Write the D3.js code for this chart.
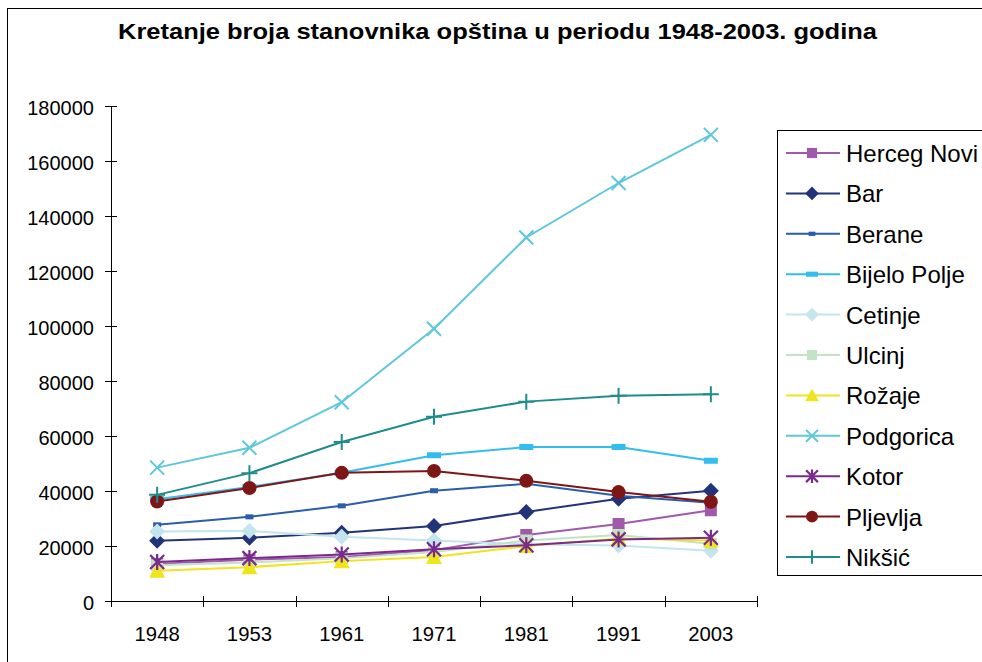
<!DOCTYPE html>
<html><head><meta charset="utf-8">
<script src="https://cdn.jsdelivr.net/npm/d3@7"></script>
<style>body{margin:0;background:#fff}svg{display:block}text{font-family:"Liberation Sans",Arial,sans-serif;fill:#000}</style>
</head><body><div id="chart"></div>
<script>
const years = ["1948","1953","1961","1971","1981","1991","2003"];
const yTicks = [0,20000,40000,60000,80000,100000,120000,140000,160000,180000];
const seriesNames = ["Herceg Novi","Bar","Berane","Bijelo Polje","Cetinje","Ulcinj","Rožaje","Podgorica","Kotor","Pljevlja","Nikšić"];
const hercegNovi = [13500,15000,16000,18500,24000,28000,33000];
const bar        = [21900,23000,24800,27300,32400,37200,40100];
const berane     = [27700,30600,34600,40100,42600,38300,35700];
const bijeloPolje= [37000,41500,46600,53000,56000,56000,51000];
const cetinje    = [25300,25500,23400,22000,20600,20200,18300];
const ulcinj     = [13000,14000,15500,17800,22000,24000,20800];
const rozaje     = [11000,12300,14500,16000,20000,22700,22000];
const podgorica  = [48500,55700,72300,99000,132200,152000,169500];
const kotor      = [14200,15600,16900,18800,20300,22400,23000];
const pljevlja   = [36200,41100,46600,47300,43700,39600,36100];
const niksic     = [38600,46500,57800,67000,72500,74600,75200];
const colors = ["#A05AAA","#23337A","#2B5DAD","#33BDEE","#C3E5EE","#C4E2C4","#EEE51C","#5EC7DB","#7A2A8C","#7F1616","#1F8C8C"];
const markers = ["square","diamond","dash","wdash","diamond","square","triangle","x","asterisk","circle","plus"];
const allValues = [hercegNovi,bar,berane,bijeloPolje,cetinje,ulcinj,rozaje,podgorica,kotor,pljevlja,niksic];

const W=982,H=662;
const svg=d3.select("#chart").append("svg").attr("width",W).attr("height",H);
svg.append("rect").attr("width",W).attr("height",H).attr("fill","#fff");
svg.append("rect").attr("x",7.5).attr("y",8.5).attr("width",990).attr("height",670).attr("fill","none").attr("stroke","#000").attr("stroke-width",1);

const x=d3.scaleBand().domain(years).range([111,757]);
const y=d3.scaleLinear().domain([0,180000]).range([601,106]);

svg.append("text").attr("x",118).attr("y",39)
  .attr("font-weight","bold").attr("font-size",22.5).attr("textLength",759).attr("lengthAdjust","spacingAndGlyphs")
  .text("Kretanje broja stanovnika opština u periodu 1948-2003. godina");

// y axis
const ya=svg.append("g");
ya.append("line").attr("x1",111.5).attr("x2",111.5).attr("y1",y(180000)).attr("y2",y(0)).attr("stroke","#000");
yTicks.forEach(t=>{
  ya.append("line").attr("x1",105).attr("x2",117).attr("y1",Math.round(y(t))+0.5).attr("y2",Math.round(y(t))+0.5).attr("stroke","#000");
  ya.append("text").attr("x",94).attr("y",y(t)+9).attr("text-anchor","end").attr("font-size",20).text(t);
});
// x axis
const xa=svg.append("g");
xa.append("line").attr("x1",105).attr("x2",757).attr("y1",601.5).attr("y2",601.5).attr("stroke","#000");
const bounds=years.map(d=>x(d)).concat([x.range()[1]]);
bounds.forEach(b=>{
  xa.append("line").attr("x1",Math.round(b)+0.5).attr("x2",Math.round(b)+0.5).attr("y1",596).attr("y2",607).attr("stroke","#000");
});
years.forEach(d=>{
  xa.append("text").attr("x",x(d)+x.bandwidth()/2).attr("y",641).attr("text-anchor","middle").attr("font-size",20.3).text(d);
});

function drawMarker(g,type,cx,cy,color,scale){
  const s=scale||1;
  if(type==="square") g.append("rect").attr("x",cx-6*s).attr("y",cy-6*s).attr("width",12*s).attr("height",12*s).attr("fill",color);
  else if(type==="diamond") g.append("path").attr("d",`M${cx},${cy-8*s}L${cx+8*s},${cy}L${cx},${cy+8*s}L${cx-8*s},${cy}Z`).attr("fill",color);
  else if(type==="dash") g.append("rect").attr("x",cx-4*s).attr("y",cy-2.5*s).attr("width",8*s).attr("height",5*s).attr("fill",color);
  else if(type==="wdash") g.append("rect").attr("x",cx-7*s).attr("y",cy-3*s).attr("width",14*s).attr("height",6*s).attr("fill",color);
  else if(type==="triangle") g.append("path").attr("d",`M${cx},${cy-8*s}L${cx+8*s},${cy+7*s}L${cx-8*s},${cy+7*s}Z`).attr("fill",color);
  else if(type==="circle") g.append("circle").attr("cx",cx).attr("cy",cy).attr("r",7*s).attr("fill",color);
  else if(type==="x") g.append("path").attr("d",`M${cx-7*s},${cy-7*s}L${cx+7*s},${cy+7*s}M${cx-7*s},${cy+7*s}L${cx+7*s},${cy-7*s}`).attr("stroke",color).attr("stroke-width",2).attr("fill","none");
  else if(type==="plus") g.append("path").attr("d",`M${cx-8*s},${cy}L${cx+8*s},${cy}M${cx},${cy-8*s}L${cx},${cy+8*s}`).attr("stroke",color).attr("stroke-width",2).attr("fill","none");
  else if(type==="asterisk") g.append("path").attr("d",`M${cx-7*s},${cy-7*s}L${cx+7*s},${cy+7*s}M${cx-7*s},${cy+7*s}L${cx+7*s},${cy-7*s}M${cx},${cy-8*s}L${cx},${cy+8*s}`).attr("stroke",color).attr("stroke-width",2.2).attr("fill","none");
}

const line=d3.line().x((d,i)=>x(years[i])+x.bandwidth()/2).y(d=>y(d));
const plot=svg.append("g");
allValues.forEach((vals,k)=>{
  const g=plot.append("g");
  g.append("path").attr("d",line(vals)).attr("fill","none").attr("stroke",colors[k]).attr("stroke-width",2);
  vals.forEach((v,i)=>drawMarker(g,markers[k],x(years[i])+x.bandwidth()/2,y(v),colors[k]));
});

// legend
const lg=svg.append("g");
lg.append("rect").attr("x",777.5).attr("y",130.5).attr("width",220).attr("height",445).attr("fill","#fff").attr("stroke","#000");
seriesNames.forEach((n,k)=>{
  const ly=153+k*40.4;
  lg.append("line").attr("x1",786).attr("x2",840).attr("y1",ly).attr("y2",ly).attr("stroke",colors[k]).attr("stroke-width",2);
  drawMarker(lg,markers[k],812,ly,colors[k],0.85);
  lg.append("text").attr("x",846).attr("y",ly+9).attr("font-size",24).text(n);
});
</script></body></html>
